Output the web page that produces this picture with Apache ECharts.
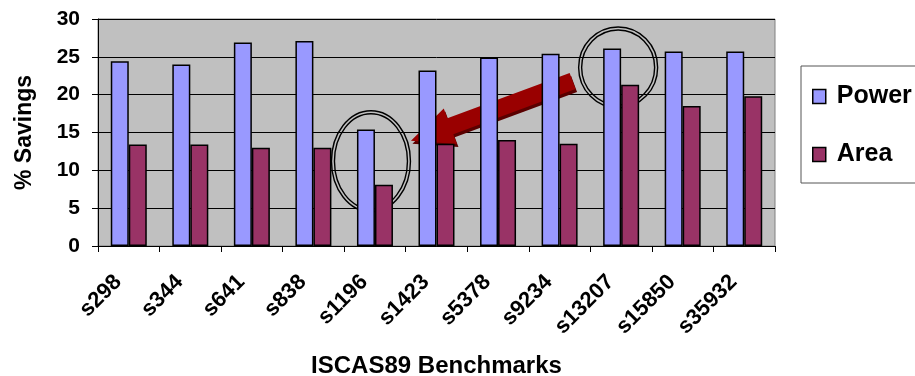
<!DOCTYPE html>
<html>
<head>
<meta charset="utf-8">
<script src="https://cdn.jsdelivr.net/npm/echarts@6/dist/echarts.min.js"></script>
<style>
html,body{margin:0;padding:0;background:#fff;}
#main{width:915px;height:376px;}
</style>
</head>
<body>
<div id="main"></div>
<script>
var benchmarks=['s298','s344','s641','s838','s1196','s1423','s5378','s9234','s13207','s15850','s35932'];
var powerSavings=[24.4,24.0,26.9,27.1,15.4,23.2,24.9,25.4,26.1,25.7,25.7];
var areaSavings=[13.4,13.4,13.0,13.0,8.1,13.5,14.0,13.5,21.3,18.5,19.8];
var yTicks=[0,5,10,15,20,25,30];

var font='"Liberation Sans", Arial, sans-serif';
var chart=echarts.init(document.getElementById('main'));

var option={
	animation:false,
	backgroundColor:'#fff',
	grid:{left:98,right:140,top:19,bottom:130,outerBoundsMode:'none',containLabel:false,
		show:true,backgroundColor:'#c0c0c0',borderColor:'#808080',borderWidth:1},
	legend:{
		orient:'vertical',left:801,top:66,
		itemWidth:13,itemHeight:14,itemGap:33,
		padding:[18,40,16,11],
		borderColor:'#555',borderWidth:1,backgroundColor:'#fff',
		textStyle:{fontFamily:font,fontWeight:'bold',fontSize:25,color:'#000',padding:[0,0,0,6]},
		data:[{name:'Power',icon:'rect',itemStyle:{borderColor:'#000',borderWidth:1.5}},{name:'Area',icon:'rect',itemStyle:{borderColor:'#000',borderWidth:1.5}}]
	},
	xAxis:{
		type:'category',data:benchmarks,
		name:'ISCAS89 Benchmarks',nameLocation:'middle',nameGap:108,
		nameTextStyle:{fontFamily:font,fontWeight:'bold',fontSize:24,color:'#000'},
		axisLine:{lineStyle:{color:'#000',width:1}},
		axisTick:{show:true,length:6,lineStyle:{color:'#000'}},
		axisLabel:{rotate:45,margin:22,padding:[0,15,0,0],fontFamily:font,fontWeight:'bold',fontSize:22,color:'#000'}
	},
	yAxis:{
		type:'value',min:0,max:30,interval:5,
		name:'% Savings',nameLocation:'middle',nameGap:62,
		nameTextStyle:{fontFamily:font,fontWeight:'bold',fontSize:23,color:'#000'},
		axisLine:{show:true,lineStyle:{color:'#000'}},
		axisTick:{show:true,length:6,lineStyle:{color:'#000'}},
		axisLabel:{margin:18,fontFamily:font,fontWeight:'bold',fontSize:21,color:'#000',
			formatter:function(v){return yTicks.indexOf(v)>=0?String(v):'';}},
		splitLine:{lineStyle:{color:'#000',width:1}}
	},
	series:[
		{name:'Power',type:'bar',data:powerSavings,barWidth:18,barGap:'0%',
			itemStyle:{color:'#9999ff',borderColor:'#000',borderWidth:1.5}},
		{name:'Area',type:'bar',data:areaSavings,barWidth:18,barGap:'0%',
			itemStyle:{color:'#993366',borderColor:'#000',borderWidth:1.5}}
	]
};
chart.setOption(option);

// annotations: ellipses and arrow, placed from data coords
function px(cat,val){return chart.convertToPixel({gridIndex:0},[cat,val]);}

function arrowPoints(from,to,shaft,headW,headL){
	var dx=to[0]-from[0],dy=to[1]-from[1];
	var len=Math.sqrt(dx*dx+dy*dy);
	var ux=dx/len,uy=dy/len,nx=-uy,ny=ux;
	var bx=to[0]-ux*headL,by=to[1]-uy*headL;
	return [
		[from[0]+nx*shaft/2,from[1]+ny*shaft/2],
		[bx+nx*shaft/2,by+ny*shaft/2],
		[bx+nx*headW/2,by+ny*headW/2],
		[to[0],to[1]],
		[bx-nx*headW/2,by-ny*headW/2],
		[bx-nx*shaft/2,by-ny*shaft/2],
		[from[0]-nx*shaft/2,from[1]-ny*shaft/2]
	];
}

function doubleRing(c,rx,ry){
	return [
		{type:'ellipse',shape:{cx:c[0],cy:c[1],rx:rx+1.5,ry:ry+1.5},style:{fill:null,stroke:'#000',lineWidth:1.4}},
		{type:'ellipse',shape:{cx:c[0],cy:c[1],rx:rx-1.5,ry:ry-1.5},style:{fill:null,stroke:'#000',lineWidth:1.4}}
	];
}

var c1=px('s1196',11.2);c1[0]-=4;
var c2=px('s13207',23.6);c2[0]-=3;
var aFrom=px('s9234',21.8);aFrom[0]+=13;
var aTo=px('s1196',13.9);aTo[0]+=36;
var pts=arrowPoints(aFrom,aTo,17,38,42);
var shadow=pts.map(function(p){return [p[0]+1.5,p[1]+3];});

chart.setOption({
	graphic:[].concat(
		doubleRing(c1,38,49),
		doubleRing(c2,38,39),
		[
			{type:'polygon',shape:{points:shadow},style:{fill:'#5a0000'}},
			{type:'polygon',shape:{points:pts},style:{fill:'#990000'}}
		]
	)
});
</script>
</body>
</html>
